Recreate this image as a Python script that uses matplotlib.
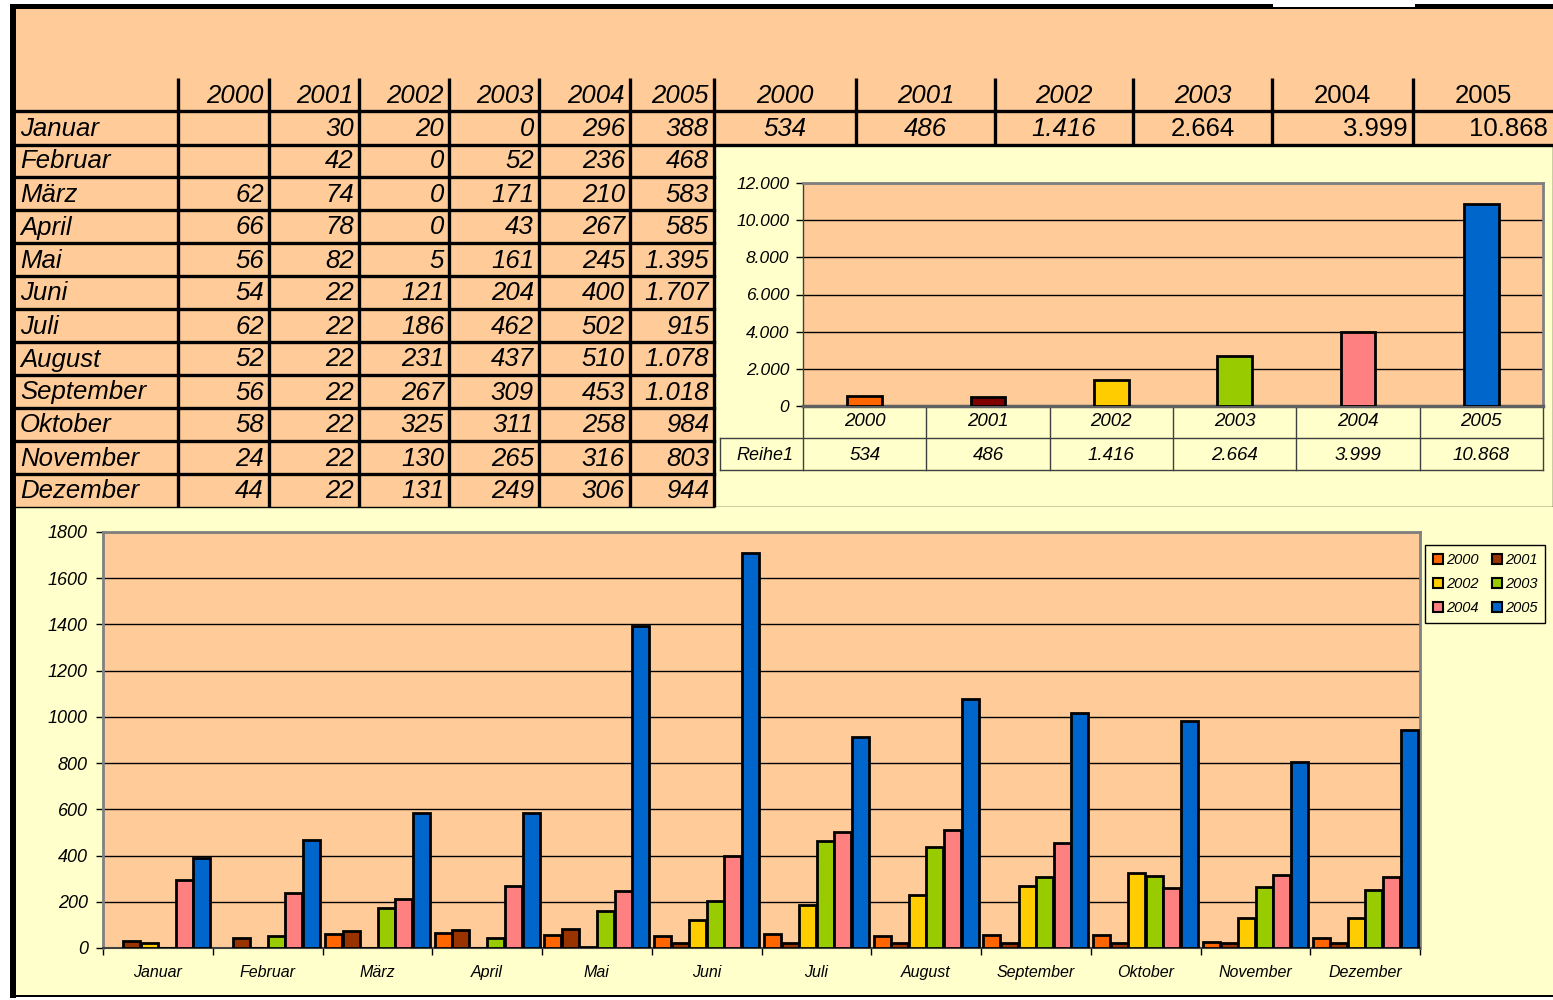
import numpy as np
import matplotlib.pyplot as plt
from matplotlib.patches import Rectangle, Patch

plt.rcParams['font.family'] = ['Liberation Sans', 'DejaVu Sans']

# ---- data ----
months = ["Januar", "Februar", "März", "April", "Mai", "Juni", "Juli",
          "August", "September", "Oktober", "November", "Dezember"]
years = ["2000", "2001", "2002", "2003", "2004", "2005"]
v2000 = [np.nan, np.nan, 62, 66, 56, 54, 62, 52, 56, 58, 24, 44]
v2001 = [30, 42, 74, 78, 82, 22, 22, 22, 22, 22, 22, 22]
v2002 = [20, 0, 0, 0, 5, 121, 186, 231, 267, 325, 130, 131]
v2003 = [0, 52, 171, 43, 161, 204, 462, 437, 309, 311, 265, 249]
v2004 = [296, 236, 210, 267, 245, 400, 502, 510, 453, 258, 316, 306]
v2005 = [388, 468, 583, 585, 1395, 1707, 915, 1078, 1018, 984, 803, 944]
totals = [534, 486, 1416, 2664, 3999, 10868]
series = [v2000, v2001, v2002, v2003, v2004, v2005]

PEACH = "#FFCC99"
CREAM = "#FFFFCC"
bar_colors = ["#FF6600", "#993300", "#FFCC00", "#99CC00", "#FF8080", "#0066CC"]
top_colors = ["#FF6600", "#800000", "#FFCC00", "#99CC00", "#FF8080", "#0066CC"]


def de(v):
    if v != v:  # nan
        return ""
    return f"{v:,.0f}".replace(",", ".")


W, H = 1553, 1000
fig = plt.figure(figsize=(W / 100, H / 100), dpi=100)
bg = fig.add_axes([0, 0, 1, 1])
bg.set_xlim(0, W)
bg.set_ylim(H, 0)
bg.axis("off")

# ---- sheet background and frame ----
bg.add_patch(Rectangle((16, 9), W - 16, 498, facecolor=PEACH, lw=0))
bg.add_patch(Rectangle((714, 145), W - 714, 362, facecolor=CREAM, edgecolor="black", lw=1))
bg.add_patch(Rectangle((16, 507), W - 16, 490, facecolor=CREAM, lw=0))
bg.add_patch(Rectangle((10, 4), 6, 994, facecolor="black", lw=0))
bg.add_patch(Rectangle((10, 4), W - 10, 5, facecolor="black", lw=0))
bg.add_patch(Rectangle((1273, 0), 142, 7, facecolor="white", lw=0))
bg.add_patch(Rectangle((10, 995), W - 10, 2, facecolor="black", lw=0))

# ---- monthly table ----
col_edges = [178, 269, 359, 449, 539, 630, 714]
row_edges = [111 + 33 * i for i in range(13)]
right_edges = [714, 856, 995, 1133, 1272, 1413, W]
tlw = 2.4
fs = 18.5

for x in col_edges:
    bg.plot([x, x], [78, 507], color="black", lw=tlw, solid_capstyle="butt")
for x in right_edges[1:-1]:
    bg.plot([x, x], [78, 145], color="black", lw=tlw, solid_capstyle="butt")
bg.plot([16, W], [111, 111], color="black", lw=tlw)
bg.plot([16, W], [145, 145], color="black", lw=tlw)
for y in row_edges[2:-1]:
    bg.plot([16, 714], [y, y], color="black", lw=tlw)
bg.plot([16, 714], [507, 507], color="black", lw=1)

for j, yr in enumerate(years):
    bg.text(col_edges[j + 1] - 5, 96, yr, ha="right", va="center",
            fontsize=fs, fontstyle="italic")
for i, m in enumerate(months):
    yc = (row_edges[i] + row_edges[i + 1]) / 2 + 1
    bg.text(20, yc, m, ha="left", va="center", fontsize=fs, fontstyle="italic")
    for j, vals in enumerate(series):
        bg.text(col_edges[j + 1] - 5, yc, de(vals[i]), ha="right", va="center",
                fontsize=fs, fontstyle="italic")

# yearly totals in the Januar row
upright = [False, False, False, True, True, True]
head_upright = [False, False, False, False, True, True]
for j, yr in enumerate(years):
    l, r = right_edges[j], right_edges[j + 1]
    bg.text((l + r) / 2, 96, yr, ha="center", va="center", fontsize=fs,
            fontstyle="normal" if head_upright[j] else "italic")
    if j >= 4:
        bg.text(r - 5, 129, de(totals[j]), ha="right", va="center", fontsize=fs,
                fontstyle="normal")
    else:
        bg.text((l + r) / 2, 129, de(totals[j]), ha="center", va="center", fontsize=fs,
                fontstyle="normal" if upright[j] else "italic")

# ---- top chart: yearly totals ----
ax1 = fig.add_axes([803 / W, 1 - 406 / H, 740 / W, 223 / H])
ax1.set_facecolor(PEACH)
ax1.bar(range(len(years)), totals, width=0.28, color=top_colors,
        edgecolor="black", lw=2, zorder=3)
ax1.set_xlim(-0.5, 5.5)
ax1.set_ylim(0, 12000)
yt1 = list(range(0, 12001, 2000))
ax1.set_yticks(yt1, labels=[de(v) for v in yt1], fontsize=12.5, fontstyle="italic")
ax1.set_xticks([])
ax1.grid(axis="y", color="black", lw=1, zorder=0)
ax1.tick_params(axis="y", direction="out", length=5, width=1, pad=5)
for s in ["top", "right"]:
    ax1.spines[s].set_color("#808080")
    ax1.spines[s].set_linewidth(2)
ax1.spines["left"].set_color("#404040")
ax1.spines["left"].set_linewidth(1)
ax1.spines["bottom"].set_color("#606060")
ax1.spines["bottom"].set_linewidth(2.5)

# data table under top chart
cw = 740 / 6
tc = "#404040"
for k in range(7):
    x = 803 + k * cw
    bg.plot([x, x], [406, 470], color=tc, lw=1)
bg.plot([720, 1543], [438, 438], color=tc, lw=1)
bg.plot([720, 1543], [470, 470], color=tc, lw=1)
bg.plot([720, 720], [438, 470], color=tc, lw=1)
bg.text(736, 456, "Reihe1", ha="left", va="center", fontsize=13, fontstyle="italic")
for j, yr in enumerate(years):
    xc = 803 + (j + 0.5) * cw
    bg.text(xc, 422, yr, ha="center", va="center", fontsize=13.5, fontstyle="italic")
    bg.text(xc, 455, de(totals[j]), ha="center", va="center", fontsize=13.5,
            fontstyle="italic")

# ---- bottom chart: monthly bars ----
ax2 = fig.add_axes([103 / W, 1 - 948 / H, 1317 / W, 416 / H])
ax2.set_facecolor(PEACH)
x = np.arange(len(months))
bw = 0.16
for j, (vals, c) in enumerate(zip(series, bar_colors)):
    ax2.bar(x + (j - 2.5) * bw, vals, width=bw * 0.97, color=c,
            edgecolor="black", lw=2, zorder=3, label=years[j])
ax2.set_xlim(-0.5, 11.5)
ax2.set_ylim(0, 1800)
yt2 = list(range(0, 1801, 200))
ax2.set_yticks(yt2, labels=[str(v) for v in yt2], fontsize=13, fontstyle="italic")
ax2.grid(axis="y", color="black", lw=1, zorder=0)
ax2.set_xticks(np.arange(-0.5, 12, 1))
ax2.set_xticklabels([])
ax2.set_xticks(x, minor=True)
ax2.set_xticklabels(months, minor=True, fontsize=11.5, fontstyle="italic")
ax2.tick_params(axis="x", which="major", direction="out", length=5, width=1)
ax2.tick_params(axis="x", which="minor", length=0, pad=12)
ax2.tick_params(axis="y", direction="out", length=5, width=1, pad=6)
for s in ["top", "right", "left"]:
    ax2.spines[s].set_color("#808080")
    ax2.spines[s].set_linewidth(2)
ax2.spines["bottom"].set_color("#404040")
ax2.spines["bottom"].set_linewidth(1.5)

handles = [Patch(facecolor=c, edgecolor="black", lw=1.5, label=y)
           for c, y in zip(bar_colors, years)]
order = [0, 2, 4, 1, 3, 5]
leg = fig.legend([handles[k] for k in order], [years[k] for k in order],
                 loc="upper left", bbox_to_anchor=(1425 / W, 1 - 545 / H),
                 borderaxespad=0, ncol=2, fontsize=10.5, handlelength=0.7,
                 handleheight=0.7, handletextpad=0.2, columnspacing=0.9,
                 labelspacing=0.7, borderpad=0.55, fancybox=False, framealpha=1,
                 facecolor=CREAM, edgecolor="black")
leg.get_frame().set_linewidth(1)
for t in leg.get_texts():
    t.set_fontstyle("italic")

fig.savefig("out.png", dpi=100)
